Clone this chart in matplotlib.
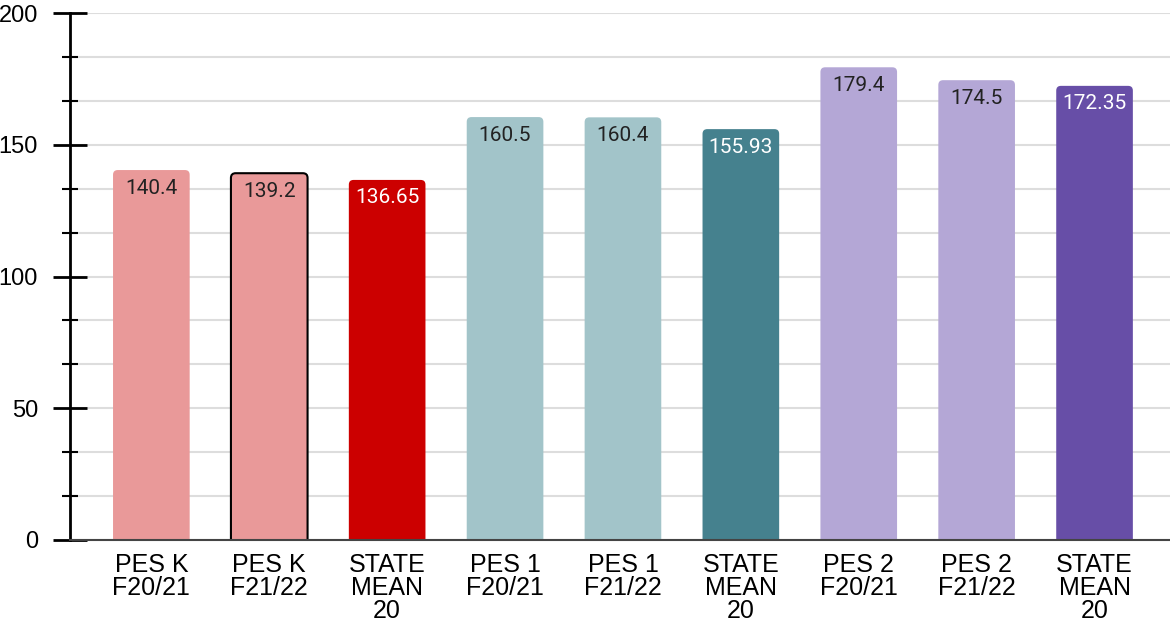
import numpy as np
import matplotlib.pyplot as plt
from matplotlib.ticker import MultipleLocator
from matplotlib.patches import FancyBboxPatch

categories = ['PES K\nF20/21', 'PES K\nF21/22', 'STATE\nMEAN\n20',
              'PES 1\nF20/21', 'PES 1\nF21/22', 'STATE\nMEAN\n20',
              'PES 2\nF20/21', 'PES 2\nF21/22', 'STATE\nMEAN\n20']
values = [140.4, 139.2, 136.65, 160.5, 160.4, 155.93, 179.4, 174.5, 172.35]
labels = ['140.4', '139.2', '136.65', '160.5', '160.4', '155.93', '179.4', '174.5', '172.35']
colors = ['#E99999', '#E99999', '#CC0000', '#A2C4C9', '#A2C4C9', '#45818E',
          '#B4A7D6', '#B4A7D6', '#674EA7']
text_colors = ['#222222', '#222222', 'white', '#222222', '#222222', 'white',
               '#222222', '#222222', 'white']

fig = plt.figure(figsize=(11.7, 6.27), dpi=100)
ax = fig.add_axes([70 / 1170, 87 / 627, 1 - 70 / 1170, 527 / 627])
ax.set_ylim(0, 200)
ax.set_xlim(-0.69, 8.64)

x = np.arange(len(values))
bars = ax.bar(x, values, width=0.65, color=colors, zorder=3)

# swap plain rectangles for ones with rounded corners
aspect = (200 / 527) / (9.33 / 1100)
for i, b in enumerate(bars):
    rounded = FancyBboxPatch((b.get_x(), -5), b.get_width(), b.get_height() + 5,
                             boxstyle='round,pad=0,rounding_size=0.04',
                             mutation_aspect=aspect, facecolor=colors[i],
                             edgecolor='black' if i == 1 else 'none',
                             linewidth=1.5, zorder=3)
    ax.add_patch(rounded)
    b.set_visible(False)

for xi, v, lab, tc in zip(x, values, labels, text_colors):
    ax.annotate(lab, (xi, v), xytext=(0, -13), textcoords='offset points',
                ha='center', va='center', fontsize=15, color=tc,
                family='Roboto', zorder=4)

ax.yaxis.set_major_locator(MultipleLocator(50))
ax.yaxis.set_minor_locator(MultipleLocator(50 / 3))
ax.grid(axis='y', which='both', color='#dddddd', linewidth=1.5, zorder=0)

ax.set_xticks(x)
ax.set_xticklabels(categories, fontsize=18, family='Liberation Sans', linespacing=0.97)
ax.tick_params(axis='x', length=0, pad=9)
ax.tick_params(axis='y', which='major', direction='inout', length=24, width=2, pad=11,
               labelsize=17)
ax.tick_params(axis='y', which='minor', direction='inout', length=12, width=1.5)
for t in ax.get_yticklabels():
    t.set_family('Liberation Sans')

for s in ['top', 'right']:
    ax.spines[s].set_visible(False)
ax.spines['left'].set_linewidth(2)
ax.spines['bottom'].set_color('#444444')
ax.spines['bottom'].set_linewidth(1.5)
ax.spines['bottom'].set_zorder(5)

fig.savefig('out.png', dpi=100)
